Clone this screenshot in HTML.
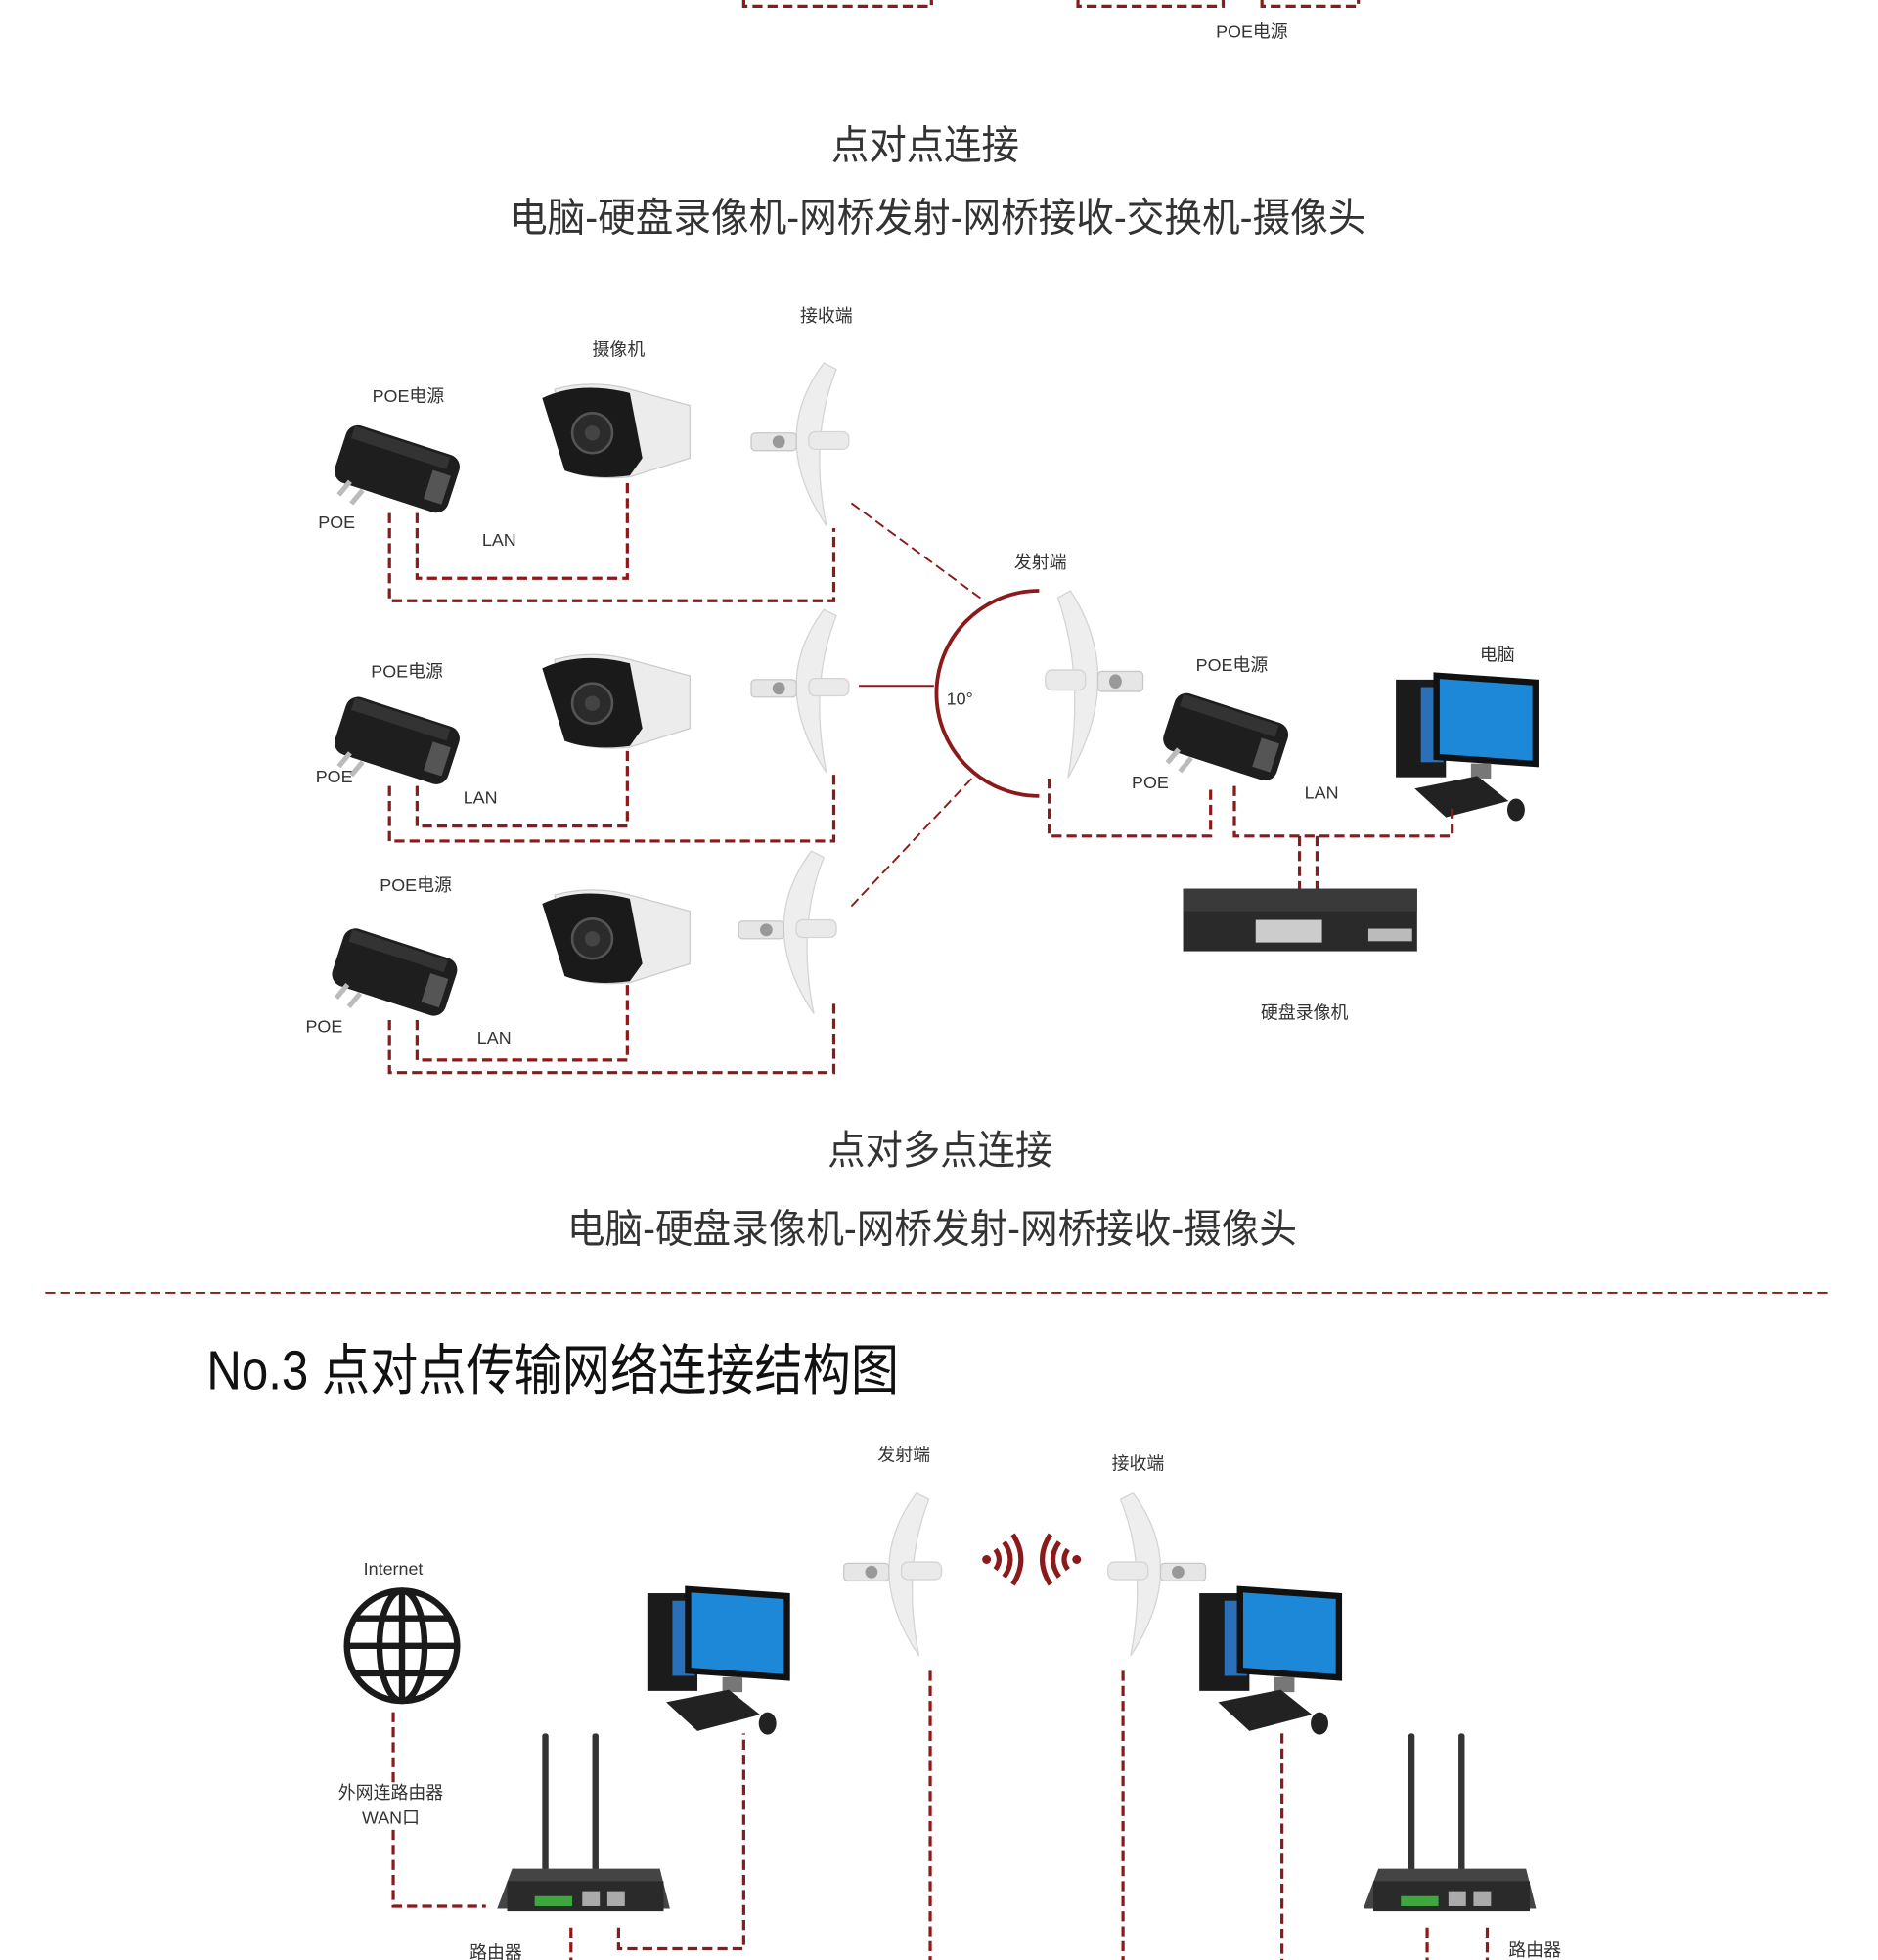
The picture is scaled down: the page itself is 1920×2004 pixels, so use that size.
<!DOCTYPE html>
<html><head><meta charset="utf-8"><style>
html,body{margin:0;padding:0;background:#fff;}
svg{display:block}
text{font-family:"Liberation Sans","Noto Sans CJK SC",sans-serif;fill:#333}
.d{fill:none;stroke:#8b1a1a;stroke-width:2.5;stroke-dasharray:8 4}
.s{font-size:14px}
</style></head><body>
<svg width="1920" height="2004" viewBox="0 0 1500 1566" xmlns="http://www.w3.org/2000/svg">
<defs>
 <g id="poe">
  <g transform="rotate(18 50 35)">
   <rect x="5" y="12" width="95" height="48" rx="10" fill="#1e1e1e"/>
   <rect x="10" y="14" width="80" height="10" fill="#333"/>
   <rect x="80" y="28" width="15" height="24" fill="#555"/>
  </g>
  <rect x="8" y="45" width="4" height="14" fill="#bbb" transform="rotate(40 10 52)"/>
  <rect x="18" y="52" width="4" height="14" fill="#bbb" transform="rotate(40 20 59)"/>
 </g>
 <g id="cam">
  <path d="M10 5 Q40 -3 70 5 L118 18 L118 60 L70 75 Q40 78 20 70 Z" fill="#ececec" stroke="#ccc"/>
  <path d="M0 12 Q30 -2 70 8 L80 60 L70 74 Q40 78 18 70 Z" fill="#1a1a1a"/>
  <circle cx="40" cy="40" r="16" fill="#2b2b2b" stroke="#555" stroke-width="2"/>
  <circle cx="40" cy="40" r="6" fill="#444"/>
 </g>
 <g id="ant">
  <path d="M60 0 Q15 60 62 130 Q48 60 70 5 Z" fill="#eeeeee" stroke="#d4d4d4"/>
  <rect x="48" y="55" width="32" height="14" rx="5" fill="#eaeaea" stroke="#d4d4d4"/>
  <rect x="2" y="56" width="36" height="14" rx="3" fill="#e6e6e6" stroke="#c8c8c8"/>
  <circle cx="24" cy="63" r="5" fill="#999"/>
 </g>
 <g id="pc">
  <rect x="0" y="8" width="40" height="78" fill="#1b1b1b"/>
  <rect x="20" y="14" width="18" height="60" fill="#2a6fb8"/>
  <rect x="30" y="0" width="84" height="70" fill="#111" transform="skewY(4)"/>
  <rect x="35" y="5" width="74" height="60" fill="#1e88d8" transform="skewY(4)"/>
  <rect x="60" y="75" width="16" height="12" fill="#777"/>
  <path d="M15 95 L65 85 L90 105 L40 118 Z" fill="#222"/>
  <ellipse cx="96" cy="112" rx="7" ry="9" fill="#222"/>
 </g>
 <g id="rtr">
  <rect x="36" y="0" width="5" height="110" rx="2" fill="#333"/>
  <rect x="76" y="0" width="5" height="110" rx="2" fill="#333"/>
  <path d="M12 108 L130 108 L138 140 L0 140 Z" fill="#444"/>
  <rect x="8" y="118" width="125" height="24" fill="#2a2a2a"/>
  <rect x="30" y="130" width="30" height="8" fill="#3ea83e"/>
  <rect x="68" y="126" width="14" height="12" fill="#aaa"/>
  <rect x="88" y="126" width="14" height="12" fill="#aaa"/>
 </g>
</defs>

<path class="d" d="M594 0 V5 H744 V0"/>
<path class="d" d="M861 0 V5 H977 V0"/>
<path class="d" d="M1008 0 V5 H1085 V0"/>
<text x="1000" y="30" class="s" text-anchor="middle">POE电源</text>

<text x="664" y="127" font-size="32" textLength="150" lengthAdjust="spacingAndGlyphs">点对点连接</text>
<text x="407" y="185" font-size="32" textLength="684" lengthAdjust="spacingAndGlyphs">电脑-硬盘录像机-网桥发射-网桥接收-交换机-摄像头</text>

<!-- row 1 -->
<text x="326" y="321" class="s" text-anchor="middle">POE电源</text>
<text x="494" y="284" class="s" text-anchor="middle">摄像机</text>
<text x="660" y="257" class="s" text-anchor="middle">接收端</text>
<use href="#poe" x="265" y="338"/>
<use href="#cam" x="433" y="306"/>
<use href="#ant" x="598" y="290"/>
<text x="254" y="422" class="s">POE</text>
<text x="385" y="436" class="s">LAN</text>
<path class="d" d="M333 410 V462 H501 V382"/>
<path class="d" d="M311 410 V480 H666 V422"/>

<!-- row 2 -->
<text x="325" y="541" class="s" text-anchor="middle">POE电源</text>
<use href="#poe" x="265" y="555"/>
<use href="#cam" x="433" y="522"/>
<use href="#ant" x="598" y="487"/>
<text x="252" y="625" class="s">POE</text>
<text x="370" y="642" class="s">LAN</text>
<path class="d" d="M333 628 V660 H501 V597"/>
<path class="d" d="M311 628 V672 H666 V617"/>

<!-- row 3 -->
<text x="332" y="712" class="s" text-anchor="middle">POE电源</text>
<use href="#poe" x="263" y="740"/>
<use href="#cam" x="433" y="710"/>
<use href="#ant" x="588" y="680"/>
<text x="244" y="825" class="s">POE</text>
<text x="381" y="834" class="s">LAN</text>
<path class="d" d="M333 815 V847 H501 V785"/>
<path class="d" d="M311 815 V857 H666 V800"/>

<!-- center -->
<path d="M830 472 A82 82 0 0 0 830 636" fill="none" stroke="#8b1a1a" stroke-width="3"/>
<path d="M680 402 L786 480" fill="none" stroke="#8b1a1a" stroke-width="1.5" stroke-dasharray="8 4"/>
<path d="M686 548 H746" fill="none" stroke="#8b1a1a" stroke-width="1.5"/>
<path d="M680 724 L778 620" fill="none" stroke="#8b1a1a" stroke-width="1.5" stroke-dasharray="8 4"/>
<text x="756" y="563" class="s">10°</text>
<text x="831" y="454" class="s" text-anchor="middle">发射端</text>
<use href="#ant" transform="translate(915 472) scale(-1 1.15)"/>
<text x="984" y="536" class="s" text-anchor="middle">POE电源</text>
<use href="#poe" x="927" y="552"/>
<text x="904" y="630" class="s">POE</text>
<text x="1042" y="638" class="s">LAN</text>
<text x="1196" y="528" class="s" text-anchor="middle">电脑</text>
<use href="#pc" x="1115" y="535"/>
<path class="d" d="M838 622 V668 H967 V628"/>
<path class="d" d="M986 628 V668 H1160 V645"/>
<path class="d" d="M1038 668 V710 M1052 668 V710"/>
<rect x="945" y="710" width="187" height="50" fill="#2a2a2a"/>
<rect x="945" y="710" width="187" height="18" fill="#3a3a3a"/>
<rect x="1003" y="735" width="53" height="18" fill="#ccc"/>
<rect x="1093" y="742" width="35" height="10" fill="#bbb"/>
<text x="1042" y="814" class="s" text-anchor="middle">硬盘录像机</text>

<text x="661" y="930" font-size="32" textLength="180" lengthAdjust="spacingAndGlyphs">点对多点连接</text>
<text x="453" y="993" font-size="32" textLength="583" lengthAdjust="spacingAndGlyphs">电脑-硬盘录像机-网桥发射-网桥接收-摄像头</text>

<path d="M36 1033 H1462" stroke="#8b1a1a" stroke-width="1.5" stroke-dasharray="8 4"/>
<text x="165" y="1110" font-size="44" style="fill:#111" textLength="553" lengthAdjust="spacingAndGlyphs">No.3  点对点传输网络连接结构图</text>

<!-- section 3 -->
<text x="722" y="1167" class="s" text-anchor="middle">发射端</text>
<text x="909" y="1174" class="s" text-anchor="middle">接收端</text>
<use href="#ant" x="672" y="1193"/>
<use href="#ant" transform="translate(965 1193) scale(-1 1)"/>
<g fill="none" stroke="#8b1a1a" stroke-width="4">
 <path d="M795 1238 Q801 1246 795 1254"/><path d="M802 1232 Q812 1246 802 1260"/><path d="M809 1226 Q822 1246 809 1266"/>
 <path d="M853 1238 Q847 1246 853 1254"/><path d="M846 1232 Q836 1246 846 1260"/><path d="M839 1226 Q826 1246 839 1266"/>
</g>
<circle cx="788" cy="1246" r="3.5" fill="#8b1a1a"/><circle cx="860" cy="1246" r="3.5" fill="#8b1a1a"/>
<text x="314" y="1258" class="s" text-anchor="middle">Internet</text>
<g fill="none" stroke="#1a1a1a" stroke-width="5">
 <circle cx="321" cy="1315" r="44"/>
 <ellipse cx="321" cy="1315" rx="18" ry="44"/>
 <path d="M321 1271 V1359 M277 1315 H365 M283 1293 H359 M283 1337 H359"/>
</g>
<use href="#pc" x="517" y="1265"/>
<use href="#pc" x="958" y="1265"/>
<use href="#rtr" x="397" y="1385"/>
<use href="#rtr" x="1089" y="1385"/>
<text x="312" y="1437" class="s" text-anchor="middle">外网连路由器</text>
<text x="312" y="1457" class="s" text-anchor="middle">WAN口</text>
<text x="396" y="1565" class="s" text-anchor="middle">路由器</text>
<text x="1226" y="1563" class="s" text-anchor="middle">路由器</text>
<path class="d" d="M314 1368 V1424 M314 1462 V1523 H388"/>
<path class="d" d="M456 1540 V1566"/>
<path class="d" d="M494 1540 V1557 H594 V1385"/>
<path class="d" d="M743 1335 V1566"/>
<path class="d" d="M897 1335 V1566"/>
<path class="d" d="M1024 1385 V1566"/>
<path class="d" d="M1140 1540 V1566"/>
<path class="d" d="M1188 1540 V1566"/>
</svg>
</body></html>
